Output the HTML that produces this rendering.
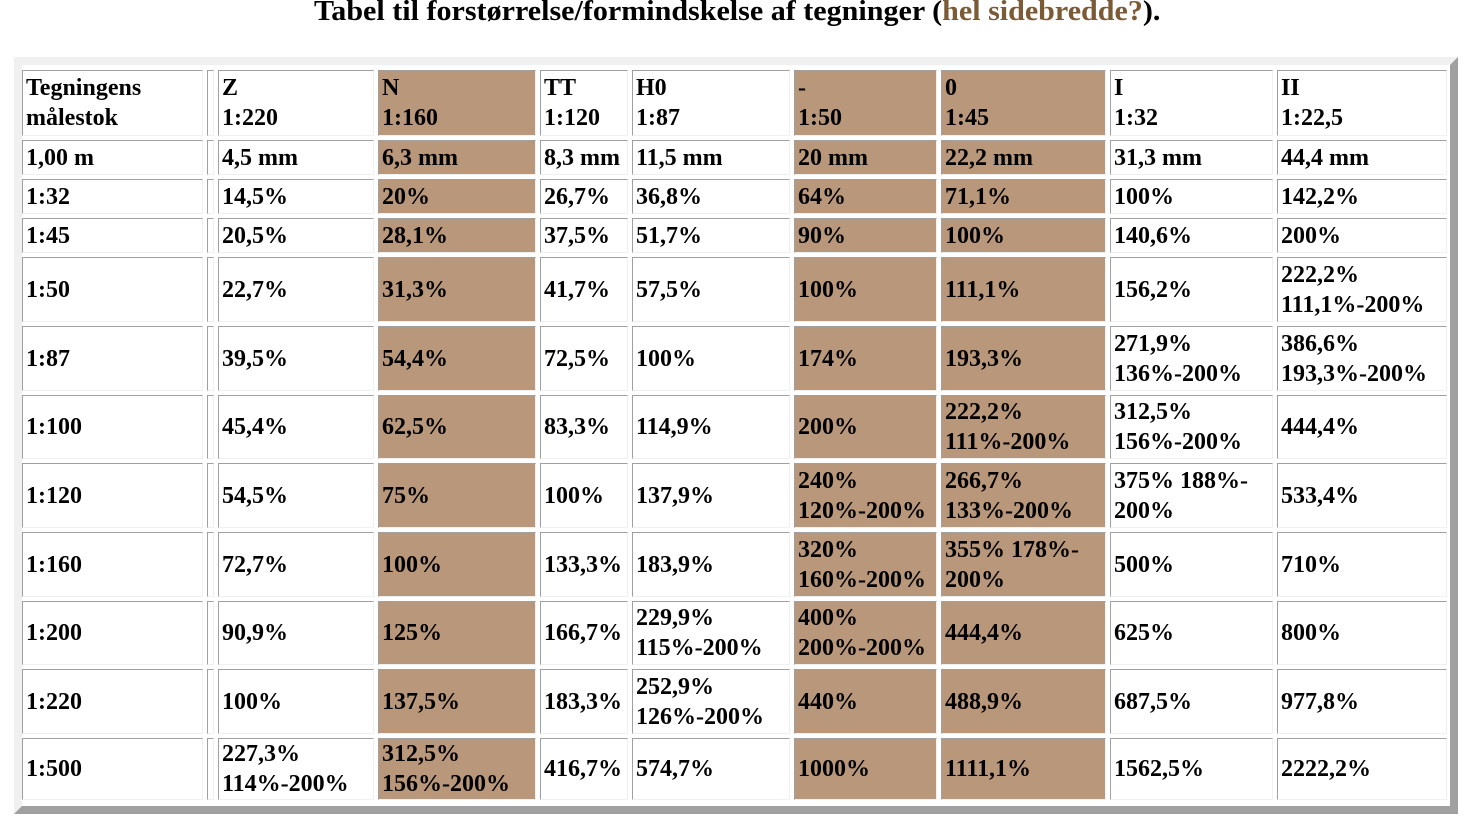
<!DOCTYPE html>
<html><head><meta charset="utf-8">
<style>
body{margin:0;width:1474px;height:822px;background:#fff;position:relative;overflow:hidden;font-family:"Liberation Serif",serif;font-weight:bold;color:#000}
#title{position:absolute;left:314px;top:-4px;font-size:28px;white-space:nowrap;transform-origin:0 0}
#title a{color:#7b5a36;text-decoration:none}
#outer{position:absolute;left:14px;top:57px;width:1428px;height:741px;border:8px solid;border-color:#f0f0f0 #a0a0a0 #a0a0a0 #f0f0f0;background:#fff}
.c{position:absolute;box-sizing:border-box;border:1px solid;border-color:#a0a0a0 #f0f0f0 #f0f0f0 #a0a0a0;font-size:24px;line-height:30px;padding-left:3px;display:flex;align-items:center;white-space:pre}
.b{background:#b9977a}
</style></head><body>
<div id="title">Tabel til forstørrelse/formindskelse af tegninger (<a href="#">hel sidebredde?</a>).</div>
<div id="outer"></div>
<script>
const colX=[22,207,218,378,540,632,794,941,1110,1277,1451];
const rowY=[70,140,179,218,257,326,395,463,532,601,669,738,804];
const brown=[3,6,7];
const rows=[
["Tegningens\nmålestok","","Z\n1:220","N\n1:160","TT\n1:120","H0\n1:87","-\n1:50","0\n1:45","I\n1:32","II\n1:22,5"],
["1,00 m","","4,5 mm","6,3 mm","8,3 mm","11,5 mm","20 mm","22,2 mm","31,3 mm","44,4 mm"],
["1:32","","14,5%","20%","26,7%","36,8%","64%","71,1%","100%","142,2%"],
["1:45","","20,5%","28,1%","37,5%","51,7%","90%","100%","140,6%","200%"],
["1:50","","22,7%","31,3%","41,7%","57,5%","100%","111,1%","156,2%","222,2%\n111,1%-200%"],
["1:87","","39,5%","54,4%","72,5%","100%","174%","193,3%","271,9%\n136%-200%","386,6%\n193,3%-200%"],
["1:100","","45,4%","62,5%","83,3%","114,9%","200%","222,2%\n111%-200%","312,5%\n156%-200%","444,4%"],
["1:120","","54,5%","75%","100%","137,9%","240%\n120%-200%","266,7%\n133%-200%","375% 188%-\n200%","533,4%"],
["1:160","","72,7%","100%","133,3%","183,9%","320%\n160%-200%","355% 178%-\n200%","500%","710%"],
["1:200","","90,9%","125%","166,7%","229,9%\n115%-200%","400%\n200%-200%","444,4%","625%","800%"],
["1:220","","100%","137,5%","183,3%","252,9%\n126%-200%","440%","488,9%","687,5%","977,8%"],
["1:500","","227,3%\n114%-200%","312,5%\n156%-200%","416,7%","574,7%","1000%","1111,1%","1562,5%","2222,2%"]];
for(let r=0;r<rows.length;r++){for(let c=0;c<10;c++){
const d=document.createElement('div');
d.className='c'+(brown.includes(c)?' b':'');
d.style.left=colX[c]+'px';d.style.top=rowY[r]+'px';
d.style.width=(colX[c+1]-colX[c]-4)+'px';d.style.height=(rowY[r+1]-rowY[r]-4)+'px';
d.textContent=rows[r][c];


document.body.appendChild(d);}}
const t=document.getElementById('title');t.style.transform='scaleX('+(846/t.offsetWidth)+')';
</script>
</body></html>
